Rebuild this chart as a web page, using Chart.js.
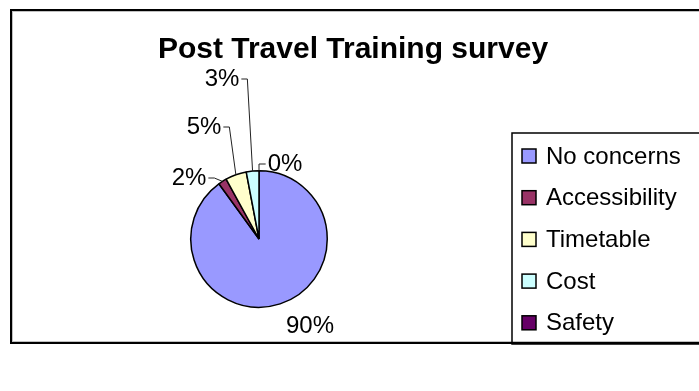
<!DOCTYPE html>
<html>
<head>
<meta charset="utf-8">
<script src="https://cdn.jsdelivr.net/npm/chart.js@4.4.1/dist/chart.umd.min.js"></script>
<style>
  html, body { margin: 0; padding: 0; background: #fff; }
  #wrap { width: 699px; height: 391px; }
</style>
</head>
<body>
<div id="wrap"><canvas id="chart" width="699" height="391"></canvas></div>
<script>
// ---- data ----
const categories = ['No concerns', 'Accessibility', 'Timetable', 'Cost', 'Safety'];
const responses = [90, 2, 5, 3, 0];
const sliceColors = ['#9999FF', '#993366', '#FFFFCC', '#CCFFFF', '#660066'];
const chartTitle = 'Post Travel Training survey';

// label placement, relative to pie centre (px), and whether a leader line is drawn
const labelPlace = [
  { dx: 51, dy: 87, leader: false },
  { dx: -70, dy: -61, leader: true },
  { dx: -55, dy: -112, leader: true },
  { dx: -37, dy: -160, leader: true },
  { dx: 26, dy: -75, leader: true },
];

const FONT = '"Liberation Sans", Arial, sans-serif';

// outer frame + title
const framePlugin = {
  id: 'frame',
  beforeDraw(chart) {
    const ctx = chart.ctx;
    ctx.save();
    ctx.fillStyle = '#fff';
    ctx.fillRect(0, 0, chart.width, chart.height);
    ctx.strokeStyle = '#c0c0c0';
    ctx.lineWidth = 1;
    ctx.strokeRect(12.5, 11.5, 720, 330);
    ctx.strokeStyle = '#000';
    ctx.lineWidth = 2;
    ctx.strokeRect(11, 10, 720, 333);
    ctx.fillStyle = '#000';
    ctx.font = 'bold 30px ' + FONT;
    ctx.textAlign = 'center';
    ctx.textBaseline = 'alphabetic';
    ctx.fillText(chartTitle, 353, 58);
    ctx.restore();
  }
};

// percentage labels with leader lines
const labelPlugin = {
  id: 'pctLabels',
  afterDatasetsDraw(chart) {
    const ctx = chart.ctx;
    const meta = chart.getDatasetMeta(0);
    const total = responses.reduce((a, b) => a + b, 0);
    ctx.save();
    ctx.font = '24px ' + FONT;
    ctx.fillStyle = '#000';
    ctx.strokeStyle = '#222';
    ctx.lineWidth = 1;
    ctx.textBaseline = 'middle';
    ctx.textAlign = 'center';
    meta.data.forEach((arc, i) => {
      const p = arc.getProps(['x', 'y', 'startAngle', 'endAngle', 'outerRadius'], true);
      const txt = Math.round(responses[i] / total * 100) + '%';
      const lx = p.x + labelPlace[i].dx;
      const ly = p.y + labelPlace[i].dy;
      ctx.fillText(txt, lx, ly);
      if (!labelPlace[i].leader) return;
      const mid = (p.startAngle + p.endAngle) / 2;
      const ax = p.x + Math.cos(mid) * p.outerRadius;
      const ay = p.y + Math.sin(mid) * p.outerRadius;
      const half = ctx.measureText(txt).width / 2;
      const left = lx < ax;
      const ex = left ? lx + half + 2 : lx - half - 2;
      const elbow = left ? ex + 6 : ax;
      ctx.beginPath();
      ctx.moveTo(ex, ly);
      ctx.lineTo(elbow, ly);
      ctx.lineTo(ax, ay);
      ctx.stroke();
    });
    ctx.restore();
  }
};

// boxed legend on the right
const legendPlugin = {
  id: 'boxLegend',
  afterDraw(chart) {
    const ctx = chart.ctx;
    ctx.save();
    ctx.strokeStyle = '#000';
    ctx.lineWidth = 1.5;
    ctx.strokeRect(512, 133, 220, 211);
    ctx.font = '24px ' + FONT;
    ctx.textBaseline = 'middle';
    ctx.textAlign = 'left';
    categories.forEach((c, i) => {
      const y = 156 + i * 41.7;
      ctx.fillStyle = sliceColors[i];
      ctx.fillRect(522, y - 7, 14, 14);
      ctx.lineWidth = 1.5;
      ctx.strokeRect(522, y - 7, 14, 14);
      ctx.fillStyle = '#000';
      ctx.fillText(c, 546, y + 1);
    });
    ctx.restore();
  }
};

new Chart(document.getElementById('chart'), {
  type: 'pie',
  data: {
    labels: categories,
    datasets: [{
      data: responses,
      backgroundColor: sliceColors,
      borderColor: '#000',
      borderWidth: 1.5,
    }]
  },
  options: {
    responsive: false,
    animation: false,
    layout: { padding: { left: 190, top: 170, right: 699 - 328, bottom: 391 - 308 } },
    plugins: {
      legend: { display: false },
      title: { display: false },
      tooltip: { enabled: false }
    }
  },
  plugins: [framePlugin, labelPlugin, legendPlugin]
});
</script>
</body>
</html>
